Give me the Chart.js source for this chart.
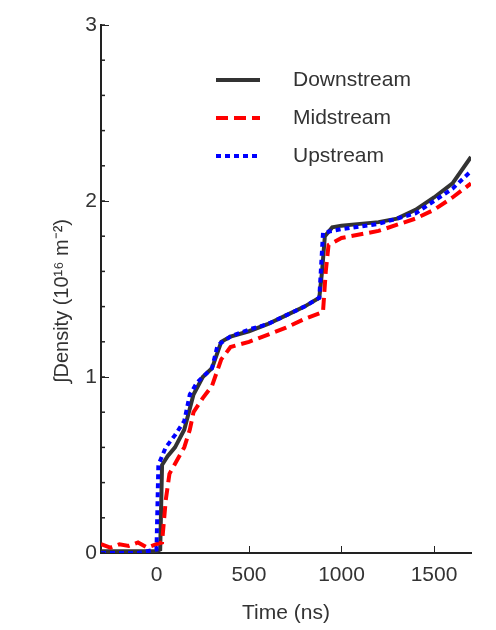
<!DOCTYPE html>
<html><head><meta charset="utf-8">
<script src="https://cdn.jsdelivr.net/npm/chart.js@4"></script>
<style>body{margin:0;background:#fff}#wrap{width:496px;height:630px}</style>
</head><body><div id="wrap"><canvas id="c"></canvas></div>
<script>
var downT=[-300,-200,-100,0,20,30,60,100,150,200,250,300,350,400,500,600,700,800,880,895,910,950,1000,1100,1200,1300,1400,1500,1600,1700];
var downV=[0.01,0.01,0.01,0.01,0.02,0.5,0.55,0.6,0.7,0.9,1.0,1.05,1.2,1.23,1.26,1.3,1.35,1.4,1.45,1.6,1.8,1.85,1.86,1.87,1.88,1.9,1.95,2.02,2.1,2.25];
var midT=[-300,-250,-200,-150,-100,-50,0,30,50,70,150,180,200,250,300,350,400,500,600,700,800,900,915,930,1000,1200,1400,1500,1600,1700];
var midV=[0.05,0.03,0.05,0.04,0.06,0.03,0.05,0.06,0.3,0.45,0.6,0.7,0.8,0.88,0.95,1.1,1.17,1.2,1.24,1.28,1.33,1.37,1.6,1.75,1.79,1.83,1.9,1.95,2.02,2.1];
var upT=[-300,-100,0,10,50,100,150,180,220,300,330,400,500,600,700,800,880,900,1000,1200,1400,1500,1600,1700];
var upV=[0,0,0.02,0.5,0.6,0.67,0.75,0.9,0.97,1.05,1.18,1.23,1.27,1.3,1.35,1.4,1.45,1.82,1.84,1.87,1.93,2.0,2.07,2.17];
var names=["Downstream","Midstream","Upstream"];
var colors=["#333333","#ff0000","#0000ff"];
var dashes=[[],[12,6],[5,4]];
function pts(t,v){return t.map(function(x,i){return {x:x,y:v[i]};});}
var sets=[pts(downT,downV),pts(midT,midV),pts(upT,upV)];
var legendPlug={id:'lg',afterDraw:function(ch){
  var c=ch.ctx;c.save();
  for(var i=0;i<3;i++){
    var y=80+i*38;
    c.strokeStyle=colors[i];c.lineWidth=4;c.setLineDash(dashes[i]);
    c.beginPath();c.moveTo(216,y);c.lineTo(260,y);c.stroke();
    c.fillStyle="#333";c.font="21px 'Liberation Sans', Arial";c.textBaseline="middle";
    c.fillText(names[i],293,y);
  }
  // minor ticks on y axis
  var ys=ch.scales.y,l=ch.chartArea.left;
  c.setLineDash([]);c.strokeStyle="#222";c.lineWidth=1.5;
  for(var v=0;v<=3.001;v+=0.2){var p=ys.getPixelForValue(v);c.beginPath();c.moveTo(l,p);c.lineTo(l+4,p);c.stroke();}
  c.restore();
}};
new Chart(document.getElementById('c'),{
  type:'line',
  data:{datasets:[2,1,0].map(function(i){return {label:names[i],data:sets[i],borderColor:colors[i],borderDash:dashes[i],borderWidth:4,pointRadius:0,fill:false,tension:0};})},
  options:{responsive:true,maintainAspectRatio:false,animation:false,
    layout:{padding:{top:25,right:25,left:48,bottom:0}},
    plugins:{legend:{display:false},tooltip:{enabled:false}},
    scales:{
      x:{type:'linear',min:-300,max:1700,
        afterBuildTicks:function(s){s.ticks=[0,500,1000,1500].map(function(v){return {value:v};});},
        afterFit:function(s){s.height=77;},
        grid:{display:true,drawOnChartArea:false,tickLength:-7,color:'#222'},
        border:{color:'#222',width:2},
        ticks:{color:'#333',font:{size:21,family:"'Liberation Sans', Arial"},padding:17,callback:function(v){return String(v);}},
        title:{display:true,text:'Time (ns)',color:'#333',font:{size:21,family:"'Liberation Sans', Arial"},padding:{top:0}}},
      y:{min:0,max:3,
        afterFit:function(s){s.width=53;},
        grid:{display:true,drawOnChartArea:false,tickLength:-8,color:'#222'},
        border:{color:'#222',width:2},
        ticks:{stepSize:1,color:'#333',font:{size:21,family:"'Liberation Sans', Arial"},padding:12},
        title:{display:false}}
    }},
  plugins:[legendPlug,{id:'yt',afterDraw:function(ch){
    var c=ch.ctx;c.save();c.translate(62,(ch.chartArea.top+ch.chartArea.bottom)/2+12);c.rotate(-Math.PI/2);
    c.fillStyle="#333";c.font="20px 'Liberation Sans', Arial";c.textAlign="center";c.textBaseline="middle";
    c.fillText('\u222BDensity (10\u00B9\u2076 m\u207B\u00B2)',0,0);c.restore();}}]
});
</script></body></html>
